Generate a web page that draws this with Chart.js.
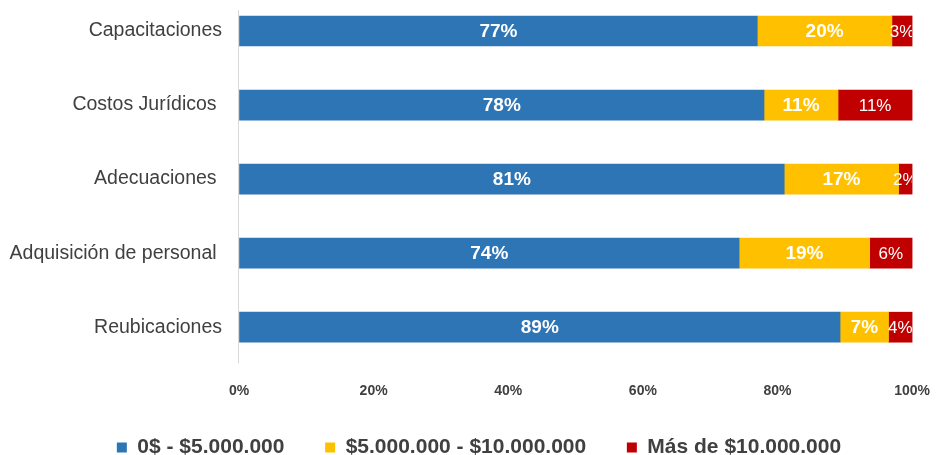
<!DOCTYPE html>
<html>
<head>
<meta charset="utf-8">
<script src="https://cdn.jsdelivr.net/npm/chart.js@4/dist/chart.umd.min.js"></script>
<style>
  html, body { margin: 0; padding: 0; background: #fff; }
  #wrap { width: 938px; height: 455px; }
</style>
</head>
<body>
<div id="wrap"><canvas id="myChart" width="938" height="455"></canvas></div>
<script>
// categories (trailing spaces kept as in the original labels)
var categories = ['Capacitaciones', 'Costos Jurídicos ', 'Adecuaciones ', 'Adquisición de personal ', 'Reubicaciones'];
var seriesNames = ['0$ - $5.000.000', '$5.000.000 - $10.000.000', 'Más de $10.000.000'];
var lowCost = [77, 78, 81, 74.3, 89.3];
var midCost = [20, 11, 17, 19.4, 7.2];
var highCost = [3, 11, 2, 6.3, 3.5];
var xTicks = [0, 20, 40, 60, 80, 100];

var colors = ['#2E75B6', '#FFC000', '#C00000'];
var font = "'Liberation Sans', Arial, sans-serif";

// white % labels inside each segment
var segLabels = {
  id: 'segLabels',
  afterDatasetsDraw(chart) {
    var ctx = chart.ctx, area = chart.chartArea;
    ctx.save();
    ctx.beginPath();
    ctx.rect(area.left, 0, area.right - area.left, chart.height);
    ctx.clip();
    chart.data.datasets.forEach((ds, i) => {
      var meta = chart.getDatasetMeta(i);
      meta.data.forEach((bar, j) => {
        var v = ds.data[j];
        ctx.fillStyle = '#fff';
        ctx.font = (i < 2 ? 'bold 19px ' : '17px ') + font;
        ctx.textAlign = 'center';
        ctx.textBaseline = 'middle';
        ctx.fillText(Math.round(v) + '%', (bar.x + bar.base) / 2, bar.y + 1);
      });
    });
    ctx.restore();
  }
};

// vertical category axis line, a bit taller than the plot like the original
var axisLine = {
  id: 'axisLine',
  beforeDatasetsDraw(chart) {
    var ctx = chart.ctx, area = chart.chartArea;
    ctx.save();
    ctx.strokeStyle = '#d9d9d9';
    ctx.lineWidth = 1;
    ctx.beginPath();
    ctx.moveTo(area.left - 0.5, area.top - 21);
    ctx.lineTo(area.left - 0.5, area.bottom + 36);
    ctx.stroke();
    ctx.restore();
  }
};

// the original legend sits a bit right of the page centre
var legendShift = {
  id: 'legendShift',
  afterLayout(chart) {
    chart.legend.left += 22;
    chart.legend.right += 22;
  }
};

var ctx = document.getElementById('myChart').getContext('2d');
var myChart = new Chart(ctx, {
  type: 'bar',
  data: {
    labels: categories,
    datasets: [
      { label: seriesNames[0], data: lowCost, backgroundColor: colors[0] },
      { label: seriesNames[1], data: midCost, backgroundColor: colors[1] },
      { label: seriesNames[2], data: highCost, backgroundColor: colors[2] }
    ].map(d => Object.assign(d, { barThickness: 30, borderWidth: 0, clip: false }))
  },
  options: {
    indexAxis: 'y',
    responsive: false,
    animation: false,
    layout: { padding: { top: 31, right: 24, left: 0, bottom: -13 } },
    scales: {
      x: {
        stacked: true,
        min: 0,
        max: 100,
        afterBuildTicks: s => { s.ticks = xTicks.map(v => ({ value: v })); },
        grid: { display: true, drawOnChartArea: false, drawTicks: true, tickLength: 48, color: 'rgba(0,0,0,0)' },
        border: { display: false },
        ticks: {
          padding: 8,
          minRotation: 0,
          maxRotation: 0,
          color: '#404040',
          font: { family: font, size: 14, weight: 'bold' },
          callback: v => v + '%'
        }
      },
      y: {
        stacked: true,
        offset: false,
        grid: { display: false, drawTicks: false },
        border: { display: false },
        ticks: {
          padding: 17,
          color: '#404040',
          font: { family: font, size: 19.5 }
        },
        afterFit: s => { s.width = 239; }
      }
    },
    plugins: {
      tooltip: { enabled: false },
      legend: {
        position: 'bottom',
        labels: {
          boxWidth: 10,
          boxHeight: 10,
          padding: 29,
          color: '#404040',
          font: { family: font, size: 21, weight: 'bold' },
          // a little extra room after the first two entries
          generateLabels: chart => {
            var items = Chart.defaults.plugins.legend.labels.generateLabels(chart);
            items.forEach((it, i) => { if (i < items.length - 1) it.text += '  '; });
            return items;
          }
        }
      }
    }
  },
  plugins: [segLabels, axisLine, legendShift]
});
</script>
</body>
</html>
